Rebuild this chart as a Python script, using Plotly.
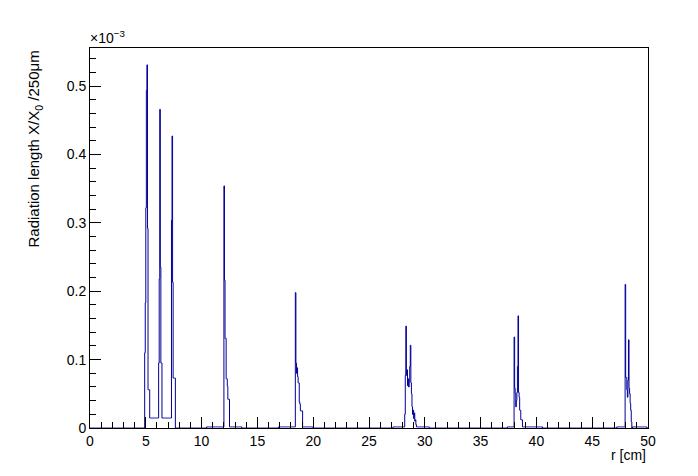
import numpy as np
import plotly.graph_objects as go

# ---- data (values in units of 1e-3 X/X0 per 250 um), bin width 0.05 cm ----
bin_width = 0.05
r_min, r_max = 0.0, 50.0

layer_starts = [4.90, 12.00, 18.40, 28.20, 38.00, 47.95]

layer1_values = [0.110, 0.183, 0.322, 0.494, 0.531, 0.292, 0.056, 0.056, 0.056,
                 0.0146, 0.0146, 0.0146, 0.0146, 0.0146, 0.0146, 0.0146, 0.0146,
                 0.0146, 0.0146, 0.0146, 0.0146, 0.0146, 0.0146, 0.0146, 0.0146,
                 0.095, 0.218, 0.466, 0.235, 0.095, 0.095,
                 0.0146, 0.0146, 0.0146, 0.0146, 0.0146, 0.0146, 0.0146, 0.0146,
                 0.0146, 0.0146, 0.0146, 0.0146, 0.0146, 0.0146, 0.0146, 0.0146, 0.0146,
                 0.304, 0.427, 0.213, 0.073, 0.073, 0.073, 0.073]
layer2_values = [0.354, 0.216, 0.131, 0.131, 0.072, 0.072, 0.061, 0.042, 0.042, 0.042]
layer3_values = [0.198, 0.095, 0.080, 0.088, 0.075, 0.066, 0.066, 0.038, 0.035,
                 0.025, 0.025, 0.025, 0.025]
layer4_values = [0.020, 0.077, 0.149, 0.077, 0.085, 0.062, 0.072, 0.060, 0.068,
                 0.090, 0.121, 0.066, 0.050, 0.031, 0.020, 0.026, 0.014, 0.022,
                 0.010, 0.012, 0.005]
layer5_values = [0.133, 0.058, 0.050, 0.031, 0.040, 0.052, 0.090, 0.164, 0.052,
                 0.045, 0.026, 0.026, 0.012, 0.012, 0.012]
layer6_values = [0.210, 0.074, 0.074, 0.056, 0.045, 0.070, 0.129, 0.058, 0.050,
                 0.036, 0.026, 0.009]

# faint support material around each layer
floor_starts = [10.45, 12.50, 16.90, 19.05, 27.15, 29.25, 37.40, 38.75, 47.20, 48.60]
floor_ends = [12.00, 13.60, 18.40, 20.00, 28.20, 30.40, 38.00, 40.55, 47.95, 49.90]
floor_value = 0.0016

y_tick_values = [0.0, 0.1, 0.2, 0.3, 0.4, 0.5]
y_tick_labels = ["0", "0.1", "0.2", "0.3", "0.4", "0.5"]
x_tick_values = [0, 5, 10, 15, 20, 25, 30, 35, 40, 45, 50]

# ---- build histogram ----
n_bins = int(round((r_max - r_min) / bin_width))
edges = np.round(r_min + bin_width * np.arange(n_bins + 1), 4)
counts = np.zeros(n_bins)

for s, e in zip(floor_starts, floor_ends):
    i0 = int(round((s - r_min) / bin_width))
    i1 = int(round((e - r_min) / bin_width))
    counts[i0:i1] = floor_value

for start, vals in zip(layer_starts, [layer1_values, layer2_values, layer3_values,
                                      layer4_values, layer5_values, layer6_values]):
    i0 = int(round((start - r_min) / bin_width))
    counts[i0:i0 + len(vals)] = vals

x_step = edges
y_step = np.append(counts, counts[-1])

y_top = 0.531 * 1.0465

fig = go.Figure()
fig.add_trace(go.Scatter(
    x=x_step, y=y_step, mode="lines",
    line=dict(color="#000099", width=1, shape="hv"),
    hoverinfo="skip", showlegend=False, cliponaxis=True,
))

font = dict(family="Liberation Sans, Arial, Helvetica, sans-serif", size=14, color="black")

# page body adds ~8px offset; margins compensate so the frame sits at x 90..648, y 48..428
fig.update_layout(
    width=698, height=476,
    margin=dict(l=82, r=58, t=40, b=56),
    paper_bgcolor="white", plot_bgcolor="white",
    font=font,
    showlegend=False,
    xaxis=dict(
        range=[r_min, r_max], tickvals=x_tick_values,
        ticks="inside", ticklen=11, tickcolor="black", tickwidth=1,
        minor=dict(dtick=1, ticks="inside", ticklen=6, tickcolor="black", tickwidth=1),
        showline=True, linecolor="black", linewidth=1, mirror=True,
        showgrid=False, zeroline=False, tickfont=font,
    ),
    yaxis=dict(
        range=[0, y_top], tickvals=y_tick_values, ticktext=y_tick_labels,
        ticks="inside", ticklen=11, tickcolor="black", tickwidth=1,
        minor=dict(tick0=0, dtick=0.02, ticks="inside", ticklen=6, tickcolor="black", tickwidth=1),
        showline=True, linecolor="black", linewidth=1, mirror=True,
        showgrid=False, zeroline=False, tickfont=font,
    ),
    annotations=[
        dict(text="r [cm]", xref="paper", yref="paper", x=1.0, y=-0.071,
             xanchor="right", yanchor="middle", showarrow=False, font=font),
        dict(text="Radiation length X/X<sub>0</sub> /250μm", xref="paper", yref="paper",
             x=-0.0986, y=1.0, xanchor="center", yanchor="top", textangle=-90,
             showarrow=False, font=dict(family=font["family"], size=15, color="black")),
        dict(text="×10<sup>−3</sup>", xref="paper", yref="paper", x=-0.003, y=1.0,
             xanchor="left", yanchor="bottom", showarrow=False,
             font=dict(family=font["family"], size=14, color="black")),
    ],
)

fig.write_html("out.html")
